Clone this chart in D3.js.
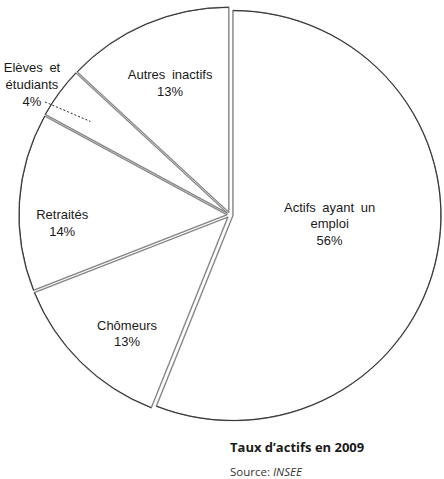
<!DOCTYPE html>
<html><head><meta charset="utf-8">
<script src="https://cdn.jsdelivr.net/npm/d3@7/dist/d3.min.js"></script>
<style>body{margin:0;background:#fff}svg{display:block}</style>
</head><body>
<script>
const categories = ["Actifs ayant un emploi","Chômeurs","Retraités","Elèves et étudiants","Autres inactifs"];
const labelLines = [["Actifs ayant un","emploi"],["Chômeurs"],["Retraités"],["Elèves et","étudiants"],["Autres inactifs"]];
const values = [56,13,14,4,13];
const title = "Taux d\u2019actifs en 2009";
const sourceName = "INSEE";

const W=444,H=479;
const svg=d3.select("body").append("svg").attr("width",W).attr("height",H);
const cx=230, cy=215, rx=208, ry=205, explode=3;
const labelR=[100,157,168,0,145];
const labelA=[95,221,267.3,0,335.6];

const pie=d3.pie().sort(null).value(d=>d)(values);
const arc=d3.arc().innerRadius(0).outerRadius(rx);

pie.forEach((p,i)=>{
  const mid=(p.startAngle+p.endAngle)/2;
  const ox=Math.sin(mid)*explode, oy=-Math.cos(mid)*explode;
  const g=svg.append("g").attr("transform",`translate(${cx+ox},${cy+oy}) scale(1,${ry/rx})`);
  g.append("path").attr("d",arc(p)).attr("fill","#fff").attr("stroke","#b8b8b8").attr("stroke-width",1.6).attr("vector-effect","non-scaling-stroke").attr("stroke-linejoin","round");
  g.append("path").attr("d",arc(p)).attr("fill","none").attr("stroke","#6a6a6a").attr("stroke-width",0.7).attr("vector-effect","non-scaling-stroke");
  const ad=d3.path(); ad.arc(0,0,rx,p.startAngle-Math.PI/2,p.endAngle-Math.PI/2);
  g.append("path").attr("d",ad.toString()).attr("fill","none").attr("stroke","#333").attr("stroke-width",1).attr("vector-effect","non-scaling-stroke");
  if(labelR[i]>0){
    const ang=labelA[i]*Math.PI/180;
    const lx=cx+Math.sin(ang)*labelR[i], ly=cy-Math.cos(ang)*labelR[i];
    const lines=labelLines[i].concat([values[i]+"%"]);
    const t=svg.append("text").attr("x",lx).attr("text-anchor","middle")
      .attr("font-family","Liberation Sans, Arial, sans-serif").attr("font-size",13).attr("fill","#1a1a1a")
      .attr("word-spacing",3);
    lines.forEach((l,k)=>{
      t.append("tspan").attr("x",lx).attr("y",ly+(k-(lines.length-1)/2)*16.5+4.5).text(l);
    });
  }
});

// Elèves label (outside)
const el=svg.append("text").attr("font-family","Liberation Sans, Arial, sans-serif").attr("font-size",13).attr("fill","#1a1a1a").attr("text-anchor","middle");
el.append("tspan").attr("x",32).attr("y",72).attr("word-spacing",3).text(labelLines[3][0]);
el.append("tspan").attr("x",32).attr("y",89).text(labelLines[3][1]);
el.append("tspan").attr("x",32).attr("y",106).text(values[3]+"%");
{
  const p=pie[3]; const a=p.startAngle+0.35*(p.endAngle-p.startAngle);
  const tx=cx+Math.sin(a)*168, ty=cy-Math.cos(a)*168;
  svg.append("line").attr("x1",45).attr("y1",102).attr("x2",tx).attr("y2",ty)
    .attr("stroke","#222").attr("stroke-width",1).attr("stroke-dasharray","2,2");
}

svg.append("text").attr("x",230).attr("y",452).attr("font-family","Open Sans, sans-serif").attr("font-weight","bold").attr("font-size",13).attr("fill","#1a1a1a").text(title);
const s=svg.append("text").attr("x",230).attr("y",476).attr("font-family","Open Sans, sans-serif").attr("font-size",11.5).attr("fill","#333");
s.append("tspan").text("Source: ");
s.append("tspan").attr("font-style","italic").text(sourceName);
</script>
</body></html>
